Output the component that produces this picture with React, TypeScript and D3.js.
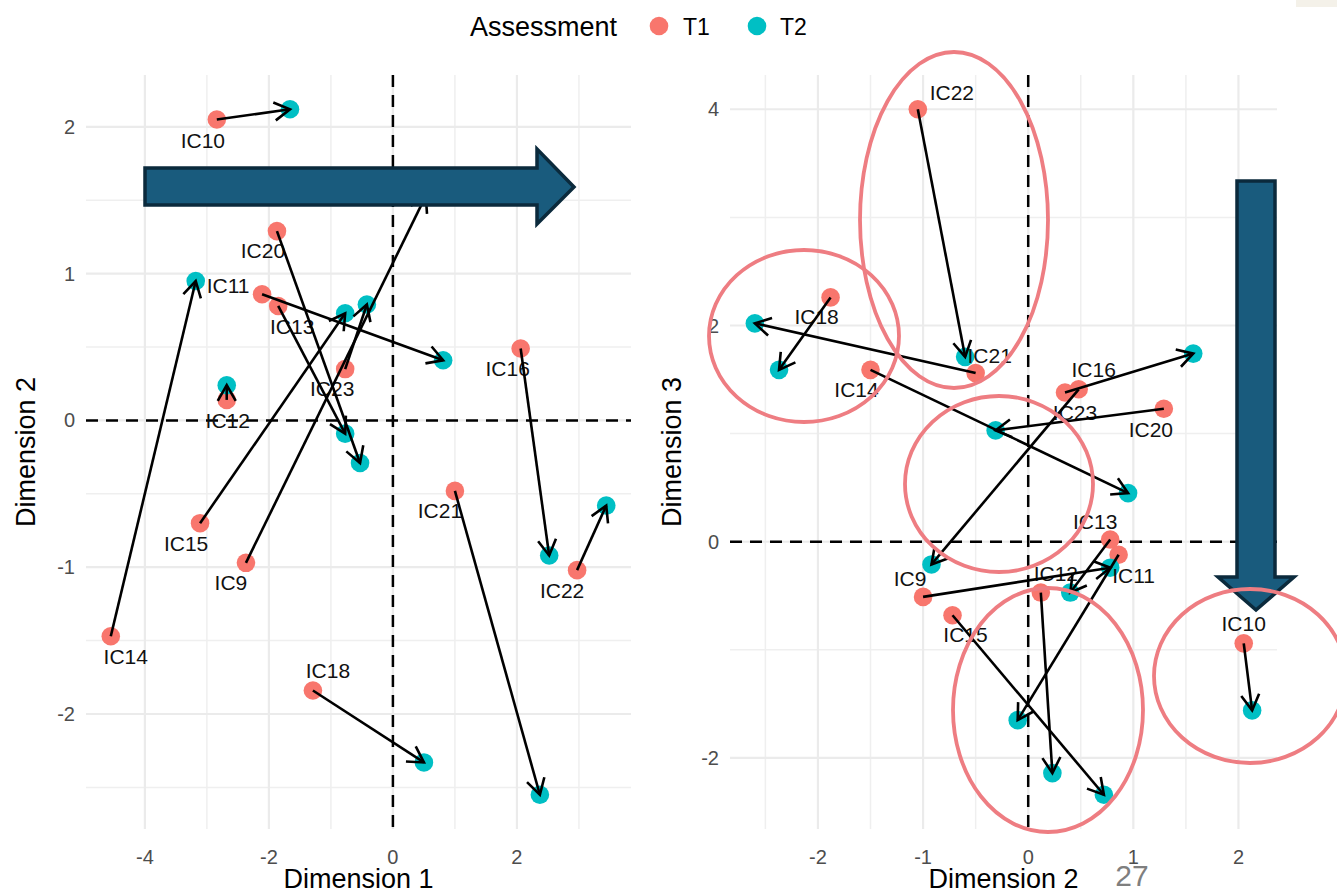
import React from "react";
import * as d3 from "d3";

// ---- data ----
const ids = ["IC10", "IC20", "IC11", "IC13", "IC23", "IC16", "IC12", "IC15", "IC9", "IC21", "IC22", "IC14", "IC18"];

// Left panel: Dimension 1 (x) vs Dimension 2 (y)
const leftT1x = [-2.84, -1.87, -2.11, -1.85, -0.77, 2.06, -2.68, -3.11, -2.37, 1.0, 2.97, -4.55, -1.29];
const leftT1y = [2.05, 1.29, 0.86, 0.78, 0.35, 0.49, 0.14, -0.7, -0.97, -0.48, -1.02, -1.47, -1.84];
const leftT2x = [-1.66, -0.53, 0.81, -0.77, -0.42, 2.52, -2.68, -0.77, 0.53, 2.37, 3.44, -3.18, 0.5];
const leftT2y = [2.12, -0.29, 0.41, -0.09, 0.79, -0.92, 0.24, 0.73, 1.53, -2.55, -0.58, 0.95, -2.33];

// Right panel: Dimension 2 (x) vs Dimension 3 (y)
const rightT1x = [2.05, 1.29, 0.86, 0.78, 0.35, 0.48, 0.12, -0.72, -1.0, -0.5, -1.05, -1.5, -1.88];
const rightT1y = [-0.94, 1.23, -0.12, 0.02, 1.38, 1.41, -0.47, -0.68, -0.51, 1.56, 4.0, 1.59, 2.26];
const rightT2x = [2.13, -0.31, -0.1, 0.4, 1.57, -0.92, 0.23, 0.72, 0.78, -2.6, -0.6, 0.95, -2.37];
const rightT2y = [-1.56, 1.03, -1.65, -0.47, 1.74, -0.21, -2.14, -2.34, -0.24, 2.02, 1.71, 0.45, 1.59];

const leftXTicks = [-4, -2, 0, 2];
const leftYTicks = [-2, -1, 0, 1, 2];
const rightXTicks = [-2, -1, 0, 1, 2];
const rightYTicks = [-2, 0, 2, 4];

const legendTitle = "Assessment";
const legendLabels = ["T1", "T2"];

// ---- layout / style ----
const W = 1337;
const H = 893;
const FONT = "'Liberation Sans', Arial, Helvetica, sans-serif";
const COLORS = ["#F8766D", "#00BFC4"];
const PLOT_TOP = 75;
const PLOT_BOTTOM = 829;

// label nudges in px (dx, dy) relative to T1 point
const leftLabelNudge: [number, number][] = [
  [-14, 21], [-14, 20], [-34, -8], [14, 21], [-13, 20], [-13, 20], [1, 21],
  [-14, 21], [-15, 20], [-15, 20], [-15, 21], [15, 21], [15, -20],
];
const rightLabelNudge: [number, number][] = [
  [0, -19], [-13, 21], [15, 21], [-15, -18], [10, 20], [15, -19], [15, -19],
  [13, 20], [-13, -18], [14, -17], [34, -16], [-14, 20], [-14, 20],
];

function expanded(vals: number[]): [number, number] {
  const [a, b] = d3.extent(vals) as [number, number];
  const p = (b - a) * 0.05;
  return [a - p, b + p];
}

function minorTicks(major: number[], domain: [number, number]) {
  const step = major[1] - major[0];
  const out: number[] = [];
  for (let v = major[0] - step / 2; v <= domain[1]; v += step) {
    if (v >= domain[0] && v <= domain[1]) out.push(v);
  }
  return out;
}

type PanelProps = {
  x0: number; x1: number;
  t1x: number[]; t1y: number[]; t2x: number[]; t2y: number[];
  xTicks: number[]; yTicks: number[];
  nudges: [number, number][];
  xTitle: string; yTitle: string; yTitleX: number;
};

function Panel(p: PanelProps) {
  const xDom = expanded([...p.t1x, ...p.t2x]);
  const yDom = expanded([...p.t1y, ...p.t2y]);
  const x = d3.scaleLinear().domain(xDom).range([p.x0, p.x1]);
  const y = d3.scaleLinear().domain(yDom).range([PLOT_BOTTOM, PLOT_TOP]);
  const xMinor = minorTicks(p.xTicks, xDom);
  const yMinor = minorTicks(p.yTicks, yDom);
  const fmt = (v: number) => (v < 0 ? "-" + Math.abs(v) : String(v));
  const head = 18;
  const ang = Math.PI / 6;

  return (
    <g>
      {/* minor grid */}
      {xMinor.map((v, i) => (
        <line key={"xm" + i} x1={x(v)} x2={x(v)} y1={PLOT_TOP} y2={PLOT_BOTTOM} stroke="#EFEFEF" strokeWidth={1.5} />
      ))}
      {yMinor.map((v, i) => (
        <line key={"ym" + i} x1={p.x0} x2={p.x1} y1={y(v)} y2={y(v)} stroke="#EFEFEF" strokeWidth={1.5} />
      ))}
      {/* major grid */}
      {p.xTicks.map((v, i) => (
        <line key={"xM" + i} x1={x(v)} x2={x(v)} y1={PLOT_TOP} y2={PLOT_BOTTOM} stroke="#EBEBEB" strokeWidth={2.2} />
      ))}
      {p.yTicks.map((v, i) => (
        <line key={"yM" + i} x1={p.x0} x2={p.x1} y1={y(v)} y2={y(v)} stroke="#EBEBEB" strokeWidth={2.2} />
      ))}
      {/* tick labels */}
      {p.xTicks.map((v, i) => (
        <text key={"xt" + i} x={x(v)} y={864} textAnchor="middle" fontSize={20} fill="#4D4D4D" fontFamily={FONT}>
          {fmt(v)}
        </text>
      ))}
      {p.yTicks.map((v, i) => (
        <text key={"yt" + i} x={p.x0 - 11} y={y(v) + 7} textAnchor="end" fontSize={20} fill="#4D4D4D" fontFamily={FONT}>
          {fmt(v)}
        </text>
      ))}
      {/* zero reference lines */}
      <line x1={x(0)} x2={x(0)} y1={PLOT_TOP} y2={PLOT_BOTTOM} stroke="#000" strokeWidth={2.5} strokeDasharray="12 8" />
      <line x1={p.x0} x2={p.x1} y1={y(0)} y2={y(0)} stroke="#000" strokeWidth={2.5} strokeDasharray="12 8" />
      {/* points */}
      {ids.map((id, i) => (
        <circle key={"p1" + id} cx={x(p.t1x[i])} cy={y(p.t1y[i])} r={9.3} fill={COLORS[0]} />
      ))}
      {ids.map((id, i) => (
        <circle key={"p2" + id} cx={x(p.t2x[i])} cy={y(p.t2y[i])} r={9.3} fill={COLORS[1]} />
      ))}
      {/* labels */}
      {ids.map((id, i) => (
        <text
          key={"l" + id}
          x={x(p.t1x[i]) + p.nudges[i][0]}
          y={y(p.t1y[i]) + p.nudges[i][1] + 7}
          textAnchor="middle"
          fontSize={21}
          fill="#111"
          fontFamily={FONT}
        >
          {id}
        </text>
      ))}
      {/* arrows */}
      {ids.map((id, i) => {
        const ax = x(p.t1x[i]);
        const ay = y(p.t1y[i]);
        const bx = x(p.t2x[i]);
        const by = y(p.t2y[i]);
        const a = Math.atan2(by - ay, bx - ax);
        const h1x = bx - head * Math.cos(a - ang);
        const h1y = by - head * Math.sin(a - ang);
        const h2x = bx - head * Math.cos(a + ang);
        const h2y = by - head * Math.sin(a + ang);
        return (
          <g key={"a" + id} stroke="#000" strokeWidth={2.6} fill="none" strokeLinecap="butt">
            <line x1={ax} y1={ay} x2={bx} y2={by} />
            <polyline points={`${h1x},${h1y} ${bx},${by} ${h2x},${h2y}`} strokeLinejoin="miter" />
          </g>
        );
      })}
      {/* axis titles */}
      <text x={(p.x0 + p.x1) / 2} y={888} textAnchor="middle" fontSize={27} fill="#000" fontFamily={FONT}>
        {p.xTitle}
      </text>
      <text
        transform={`translate(${p.yTitleX},${(PLOT_TOP + PLOT_BOTTOM) / 2}) rotate(-90)`}
        textAnchor="middle"
        fontSize={27}
        fill="#000"
        fontFamily={FONT}
      >
        {p.yTitle}
      </text>
    </g>
  );
}

// Slide annotation overlays (hand-drawn shapes over the chart)
const ellipses = [
  { cx: 954, cy: 220, rx: 94, ry: 168 },
  { cx: 804, cy: 336, rx: 95, ry: 86 },
  { cx: 999, cy: 484, rx: 94, ry: 88 },
  { cx: 1048, cy: 710, rx: 95, ry: 122 },
  { cx: 1250, cy: 676, rx: 96, ry: 87 },
];

export default function App() {
  React.useEffect(() => {
    document.body.style.margin = "0";
  }, []);
  const rightArrow = "M145,168 L537,168 L537,149 L574,187 L537,224 L537,205 L145,205 Z";
  const downArrow = "M1237,181 L1275,181 L1275,577 L1294,577 L1256,610 L1218,577 L1237,577 Z";
  return (
    <div style={{ position: "absolute", left: 0, top: 0 }}>
      <svg width={W} height={H} viewBox={`0 0 ${W} ${H}`} style={{ display: "block", background: "#fff" }}>
        <rect x={0} y={0} width={W} height={H} fill="#fff" />
        <rect x={1296} y={0} width={41} height={7} fill="#F4F1E9" />
        {/* legend */}
        <g fontFamily={FONT}>
          <text x={470} y={36} fontSize={27} fill="#000">{legendTitle}</text>
          <circle cx={659} cy={26} r={9.3} fill={COLORS[0]} />
          <text x={683} y={35} fontSize={23} fill="#000">{legendLabels[0]}</text>
          <circle cx={757} cy={26} r={9.3} fill={COLORS[1]} />
          <text x={780} y={35} fontSize={23} fill="#000">{legendLabels[1]}</text>
        </g>
        <Panel
          x0={86} x1={631}
          t1x={leftT1x} t1y={leftT1y} t2x={leftT2x} t2y={leftT2y}
          xTicks={leftXTicks} yTicks={leftYTicks}
          nudges={leftLabelNudge}
          xTitle="Dimension 1" yTitle="Dimension 2" yTitleX={35}
        />
        <Panel
          x0={730} x1={1277}
          t1x={rightT1x} t1y={rightT1y} t2x={rightT2x} t2y={rightT2y}
          xTicks={rightXTicks} yTicks={rightYTicks}
          nudges={rightLabelNudge}
          xTitle="Dimension 2" yTitle="Dimension 3" yTitleX={681}
        />
        {/* overlays */}
        <path d={rightArrow} fill="#195B7D" stroke="#0B2A3C" strokeWidth={3.5} strokeLinejoin="miter" />
        <path d={downArrow} fill="#195B7D" stroke="#0B2A3C" strokeWidth={3.5} strokeLinejoin="miter" />
        {ellipses.map((e, i) => (
          <ellipse key={i} cx={e.cx} cy={e.cy} rx={e.rx} ry={e.ry} fill="none" stroke="#EE7D82" strokeWidth={3.8} />
        ))}
        <text x={1132} y={886} textAnchor="middle" fontSize={30} fill="#7F7F7F" fontFamily={FONT}>27</text>
      </svg>
    </div>
  );
}
